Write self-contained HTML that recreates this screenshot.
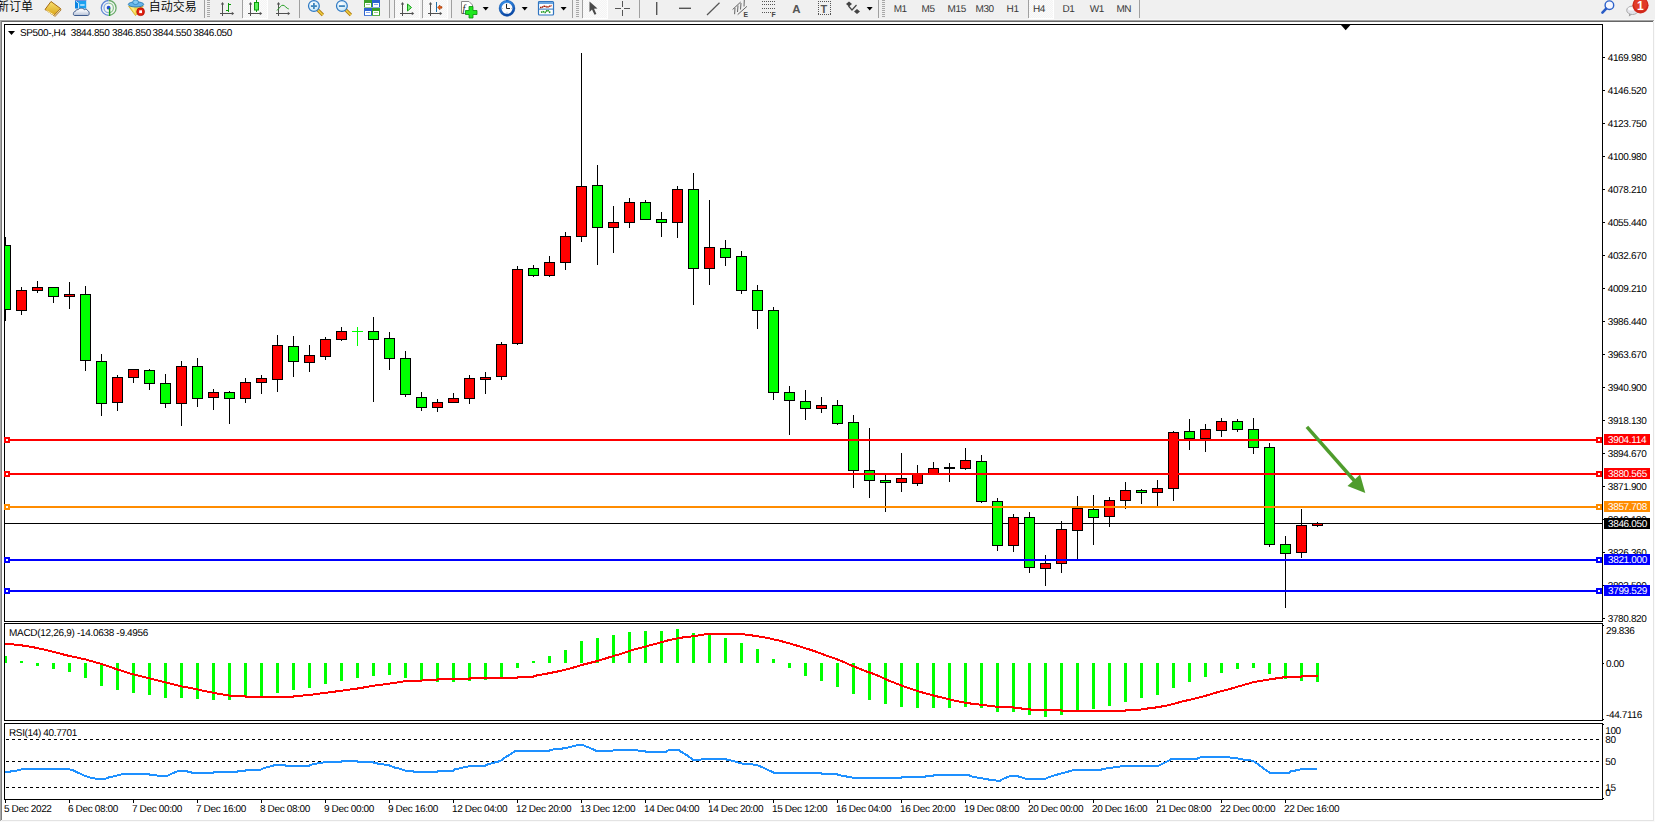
<!DOCTYPE html>
<html><head><meta charset="utf-8"><title>SP500-,H4</title>
<style>
html,body{margin:0;padding:0;width:1655px;height:822px;overflow:hidden;background:#f0f0f0;}
svg{position:absolute;left:0;top:0;display:block}
</style></head><body>
<svg width="1655" height="822" viewBox="0 0 1655 822">
<rect x="0" y="0" width="1655" height="822" fill="#f0f0f0"/>
<rect x="0" y="19" width="1655" height="1" fill="#f6f6f6"/>
<rect x="0" y="20" width="1654" height="1" fill="#a4a4a4"/>
<rect x="0" y="21" width="1653" height="1" fill="#666666"/>
<rect x="0" y="20" width="1" height="801" fill="#a8a8a8"/>
<rect x="1" y="21" width="1" height="799" fill="#7c7c7c"/>
<rect x="2" y="820" width="1652" height="1" fill="#e3e3e3"/>
<rect x="0" y="821" width="1655" height="1" fill="#fafafa"/>
<rect x="1653" y="22" width="1" height="799" fill="#e4e4e4"/>
<rect x="1654" y="20" width="1" height="802" fill="#fbfbfb"/>
<g text-rendering="geometricPrecision"><defs><clipPath id="cm"><rect x="5" y="25" width="1597" height="596"/></clipPath><clipPath id="cd"><rect x="5" y="624" width="1597" height="97"/></clipPath><clipPath id="cr"><rect x="5" y="724" width="1597" height="75"/></clipPath></defs><rect x="2" y="22" width="1651" height="798" fill="#ffffff"/><g shape-rendering="crispEdges" fill="none" stroke="#000" stroke-width="1"><path d="M4.5 24.5H1602.5V621.5H4.5Z"/><path d="M4.5 623.5H1602.5V720.5H4.5Z"/><path d="M4.5 723.5H1602.5V799.5H4.5Z"/></g><path d="M1341 25H1350.4L1345.7 30.3Z" fill="#000"/><g clip-path="url(#cm)" shape-rendering="crispEdges"><rect x="5" y="523" width="1597" height="1" fill="#000"/><rect x="5" y="237" width="1" height="84" fill="#000"/><rect x="0" y="245" width="11" height="65" fill="#000"/><rect x="1" y="246" width="9" height="63" fill="#00ff00"/><rect x="21" y="287" width="1" height="28" fill="#000"/><rect x="16" y="290" width="11" height="21" fill="#000"/><rect x="17" y="291" width="9" height="19" fill="#ff0000"/><rect x="37" y="281" width="1" height="12" fill="#000"/><rect x="32" y="287" width="11" height="4" fill="#000"/><rect x="33" y="288" width="9" height="2" fill="#ff0000"/><rect x="53" y="287" width="1" height="16" fill="#000"/><rect x="48" y="287" width="11" height="10" fill="#000"/><rect x="49" y="288" width="9" height="8" fill="#00ff00"/><rect x="69" y="282" width="1" height="27" fill="#000"/><rect x="64" y="294" width="11" height="3" fill="#000"/><rect x="65" y="295" width="9" height="1" fill="#ff0000"/><rect x="85" y="286" width="1" height="85" fill="#000"/><rect x="80" y="294" width="11" height="67" fill="#000"/><rect x="81" y="295" width="9" height="65" fill="#00ff00"/><rect x="101" y="354" width="1" height="62" fill="#000"/><rect x="96" y="361" width="11" height="43" fill="#000"/><rect x="97" y="362" width="9" height="41" fill="#00ff00"/><rect x="117" y="375" width="1" height="36" fill="#000"/><rect x="112" y="377" width="11" height="26" fill="#000"/><rect x="113" y="378" width="9" height="24" fill="#ff0000"/><rect x="133" y="369" width="1" height="14" fill="#000"/><rect x="128" y="369" width="11" height="9" fill="#000"/><rect x="129" y="370" width="9" height="7" fill="#ff0000"/><rect x="149" y="369" width="1" height="21" fill="#000"/><rect x="144" y="370" width="11" height="14" fill="#000"/><rect x="145" y="371" width="9" height="12" fill="#00ff00"/><rect x="165" y="374" width="1" height="34" fill="#000"/><rect x="160" y="383" width="11" height="21" fill="#000"/><rect x="161" y="384" width="9" height="19" fill="#00ff00"/><rect x="181" y="361" width="1" height="65" fill="#000"/><rect x="176" y="366" width="11" height="38" fill="#000"/><rect x="177" y="367" width="9" height="36" fill="#ff0000"/><rect x="197" y="358" width="1" height="49" fill="#000"/><rect x="192" y="366" width="11" height="33" fill="#000"/><rect x="193" y="367" width="9" height="31" fill="#00ff00"/><rect x="213" y="389" width="1" height="21" fill="#000"/><rect x="208" y="392" width="11" height="6" fill="#000"/><rect x="209" y="393" width="9" height="4" fill="#ff0000"/><rect x="229" y="391" width="1" height="33" fill="#000"/><rect x="224" y="392" width="11" height="7" fill="#000"/><rect x="225" y="393" width="9" height="5" fill="#00ff00"/><rect x="245" y="378" width="1" height="25" fill="#000"/><rect x="240" y="382" width="11" height="17" fill="#000"/><rect x="241" y="383" width="9" height="15" fill="#ff0000"/><rect x="261" y="375" width="1" height="19" fill="#000"/><rect x="256" y="378" width="11" height="5" fill="#000"/><rect x="257" y="379" width="9" height="3" fill="#ff0000"/><rect x="277" y="335" width="1" height="57" fill="#000"/><rect x="272" y="345" width="11" height="35" fill="#000"/><rect x="273" y="346" width="9" height="33" fill="#ff0000"/><rect x="293" y="336" width="1" height="41" fill="#000"/><rect x="288" y="346" width="11" height="16" fill="#000"/><rect x="289" y="347" width="9" height="14" fill="#00ff00"/><rect x="309" y="345" width="1" height="27" fill="#000"/><rect x="304" y="355" width="11" height="8" fill="#000"/><rect x="305" y="356" width="9" height="6" fill="#ff0000"/><rect x="325" y="337" width="1" height="23" fill="#000"/><rect x="320" y="339" width="11" height="18" fill="#000"/><rect x="321" y="340" width="9" height="16" fill="#ff0000"/><rect x="341" y="327" width="1" height="14" fill="#000"/><rect x="336" y="331" width="11" height="9" fill="#000"/><rect x="337" y="332" width="9" height="7" fill="#ff0000"/><rect x="357" y="327" width="1" height="19" fill="#00ff00"/><rect x="352" y="331" width="11" height="1" fill="#00ff00"/><rect x="373" y="317" width="1" height="85" fill="#000"/><rect x="368" y="331" width="11" height="9" fill="#000"/><rect x="369" y="332" width="9" height="7" fill="#00ff00"/><rect x="389" y="332" width="1" height="38" fill="#000"/><rect x="384" y="338" width="11" height="21" fill="#000"/><rect x="385" y="339" width="9" height="19" fill="#00ff00"/><rect x="405" y="351" width="1" height="46" fill="#000"/><rect x="400" y="358" width="11" height="37" fill="#000"/><rect x="401" y="359" width="9" height="35" fill="#00ff00"/><rect x="421" y="392" width="1" height="19" fill="#000"/><rect x="416" y="397" width="11" height="11" fill="#000"/><rect x="417" y="398" width="9" height="9" fill="#00ff00"/><rect x="437" y="399" width="1" height="13" fill="#000"/><rect x="432" y="402" width="11" height="6" fill="#000"/><rect x="433" y="403" width="9" height="4" fill="#ff0000"/><rect x="453" y="393" width="1" height="10" fill="#000"/><rect x="448" y="398" width="11" height="5" fill="#000"/><rect x="449" y="399" width="9" height="3" fill="#ff0000"/><rect x="469" y="375" width="1" height="29" fill="#000"/><rect x="464" y="378" width="11" height="21" fill="#000"/><rect x="465" y="379" width="9" height="19" fill="#ff0000"/><rect x="485" y="372" width="1" height="22" fill="#000"/><rect x="480" y="377" width="11" height="3" fill="#000"/><rect x="481" y="378" width="9" height="1" fill="#ff0000"/><rect x="501" y="342" width="1" height="38" fill="#000"/><rect x="496" y="344" width="11" height="33" fill="#000"/><rect x="497" y="345" width="9" height="31" fill="#ff0000"/><rect x="517" y="266" width="1" height="79" fill="#000"/><rect x="512" y="269" width="11" height="75" fill="#000"/><rect x="513" y="270" width="9" height="73" fill="#ff0000"/><rect x="533" y="265" width="1" height="12" fill="#000"/><rect x="528" y="268" width="11" height="8" fill="#000"/><rect x="529" y="269" width="9" height="6" fill="#00ff00"/><rect x="549" y="256" width="1" height="21" fill="#000"/><rect x="544" y="262" width="11" height="14" fill="#000"/><rect x="545" y="263" width="9" height="12" fill="#ff0000"/><rect x="565" y="232" width="1" height="38" fill="#000"/><rect x="560" y="236" width="11" height="27" fill="#000"/><rect x="561" y="237" width="9" height="25" fill="#ff0000"/><rect x="581" y="53" width="1" height="189" fill="#000"/><rect x="576" y="186" width="11" height="51" fill="#000"/><rect x="577" y="187" width="9" height="49" fill="#ff0000"/><rect x="597" y="165" width="1" height="100" fill="#000"/><rect x="592" y="185" width="11" height="43" fill="#000"/><rect x="593" y="186" width="9" height="41" fill="#00ff00"/><rect x="613" y="206" width="1" height="47" fill="#000"/><rect x="608" y="222" width="11" height="6" fill="#000"/><rect x="609" y="223" width="9" height="4" fill="#ff0000"/><rect x="629" y="198" width="1" height="30" fill="#000"/><rect x="624" y="202" width="11" height="21" fill="#000"/><rect x="625" y="203" width="9" height="19" fill="#ff0000"/><rect x="645" y="200" width="1" height="20" fill="#000"/><rect x="640" y="202" width="11" height="18" fill="#000"/><rect x="641" y="203" width="9" height="16" fill="#00ff00"/><rect x="661" y="212" width="1" height="25" fill="#000"/><rect x="656" y="219" width="11" height="4" fill="#000"/><rect x="657" y="220" width="9" height="2" fill="#00ff00"/><rect x="677" y="186" width="1" height="52" fill="#000"/><rect x="672" y="189" width="11" height="34" fill="#000"/><rect x="673" y="190" width="9" height="32" fill="#ff0000"/><rect x="693" y="173" width="1" height="132" fill="#000"/><rect x="688" y="189" width="11" height="80" fill="#000"/><rect x="689" y="190" width="9" height="78" fill="#00ff00"/><rect x="709" y="200" width="1" height="85" fill="#000"/><rect x="704" y="247" width="11" height="22" fill="#000"/><rect x="705" y="248" width="9" height="20" fill="#ff0000"/><rect x="725" y="240" width="1" height="26" fill="#000"/><rect x="720" y="248" width="11" height="10" fill="#000"/><rect x="721" y="249" width="9" height="8" fill="#00ff00"/><rect x="741" y="251" width="1" height="43" fill="#000"/><rect x="736" y="256" width="11" height="35" fill="#000"/><rect x="737" y="257" width="9" height="33" fill="#00ff00"/><rect x="757" y="285" width="1" height="44" fill="#000"/><rect x="752" y="290" width="11" height="21" fill="#000"/><rect x="753" y="291" width="9" height="19" fill="#00ff00"/><rect x="773" y="307" width="1" height="93" fill="#000"/><rect x="768" y="310" width="11" height="83" fill="#000"/><rect x="769" y="311" width="9" height="81" fill="#00ff00"/><rect x="789" y="386" width="1" height="49" fill="#000"/><rect x="784" y="392" width="11" height="9" fill="#000"/><rect x="785" y="393" width="9" height="7" fill="#00ff00"/><rect x="805" y="390" width="1" height="30" fill="#000"/><rect x="800" y="401" width="11" height="8" fill="#000"/><rect x="801" y="402" width="9" height="6" fill="#00ff00"/><rect x="821" y="397" width="1" height="16" fill="#000"/><rect x="816" y="405" width="11" height="4" fill="#000"/><rect x="817" y="406" width="9" height="2" fill="#ff0000"/><rect x="837" y="400" width="1" height="25" fill="#000"/><rect x="832" y="405" width="11" height="19" fill="#000"/><rect x="833" y="406" width="9" height="17" fill="#00ff00"/><rect x="853" y="415" width="1" height="73" fill="#000"/><rect x="848" y="422" width="11" height="49" fill="#000"/><rect x="849" y="423" width="9" height="47" fill="#00ff00"/><rect x="869" y="428" width="1" height="70" fill="#000"/><rect x="864" y="470" width="11" height="11" fill="#000"/><rect x="865" y="471" width="9" height="9" fill="#00ff00"/><rect x="885" y="475" width="1" height="37" fill="#000"/><rect x="880" y="480" width="11" height="3" fill="#000"/><rect x="881" y="481" width="9" height="1" fill="#00ff00"/><rect x="901" y="453" width="1" height="39" fill="#000"/><rect x="896" y="478" width="11" height="5" fill="#000"/><rect x="897" y="479" width="9" height="3" fill="#ff0000"/><rect x="917" y="465" width="1" height="21" fill="#000"/><rect x="912" y="473" width="11" height="11" fill="#000"/><rect x="913" y="474" width="9" height="9" fill="#ff0000"/><rect x="933" y="462" width="1" height="12" fill="#000"/><rect x="928" y="468" width="11" height="6" fill="#000"/><rect x="929" y="469" width="9" height="4" fill="#ff0000"/><rect x="949" y="463" width="1" height="19" fill="#000"/><rect x="944" y="467" width="11" height="2" fill="#000"/><rect x="965" y="448" width="1" height="22" fill="#000"/><rect x="960" y="460" width="11" height="9" fill="#000"/><rect x="961" y="461" width="9" height="7" fill="#ff0000"/><rect x="981" y="455" width="1" height="48" fill="#000"/><rect x="976" y="461" width="11" height="41" fill="#000"/><rect x="977" y="462" width="9" height="39" fill="#00ff00"/><rect x="997" y="498" width="1" height="53" fill="#000"/><rect x="992" y="501" width="11" height="45" fill="#000"/><rect x="993" y="502" width="9" height="43" fill="#00ff00"/><rect x="1013" y="514" width="1" height="38" fill="#000"/><rect x="1008" y="517" width="11" height="29" fill="#000"/><rect x="1009" y="518" width="9" height="27" fill="#ff0000"/><rect x="1029" y="512" width="1" height="61" fill="#000"/><rect x="1024" y="517" width="11" height="51" fill="#000"/><rect x="1025" y="518" width="9" height="49" fill="#00ff00"/><rect x="1045" y="555" width="1" height="31" fill="#000"/><rect x="1040" y="563" width="11" height="6" fill="#000"/><rect x="1041" y="564" width="9" height="4" fill="#ff0000"/><rect x="1061" y="521" width="1" height="52" fill="#000"/><rect x="1056" y="529" width="11" height="35" fill="#000"/><rect x="1057" y="530" width="9" height="33" fill="#ff0000"/><rect x="1077" y="496" width="1" height="63" fill="#000"/><rect x="1072" y="508" width="11" height="23" fill="#000"/><rect x="1073" y="509" width="9" height="21" fill="#ff0000"/><rect x="1093" y="495" width="1" height="50" fill="#000"/><rect x="1088" y="509" width="11" height="9" fill="#000"/><rect x="1089" y="510" width="9" height="7" fill="#00ff00"/><rect x="1109" y="497" width="1" height="30" fill="#000"/><rect x="1104" y="500" width="11" height="17" fill="#000"/><rect x="1105" y="501" width="9" height="15" fill="#ff0000"/><rect x="1125" y="482" width="1" height="27" fill="#000"/><rect x="1120" y="490" width="11" height="11" fill="#000"/><rect x="1121" y="491" width="9" height="9" fill="#ff0000"/><rect x="1141" y="489" width="1" height="15" fill="#000"/><rect x="1136" y="490" width="11" height="3" fill="#000"/><rect x="1137" y="491" width="9" height="1" fill="#00ff00"/><rect x="1157" y="480" width="1" height="26" fill="#000"/><rect x="1152" y="488" width="11" height="5" fill="#000"/><rect x="1153" y="489" width="9" height="3" fill="#ff0000"/><rect x="1173" y="431" width="1" height="70" fill="#000"/><rect x="1168" y="432" width="11" height="57" fill="#000"/><rect x="1169" y="433" width="9" height="55" fill="#ff0000"/><rect x="1189" y="419" width="1" height="31" fill="#000"/><rect x="1184" y="431" width="11" height="8" fill="#000"/><rect x="1185" y="432" width="9" height="6" fill="#00ff00"/><rect x="1205" y="424" width="1" height="28" fill="#000"/><rect x="1200" y="429" width="11" height="10" fill="#000"/><rect x="1201" y="430" width="9" height="8" fill="#ff0000"/><rect x="1221" y="418" width="1" height="19" fill="#000"/><rect x="1216" y="421" width="11" height="10" fill="#000"/><rect x="1217" y="422" width="9" height="8" fill="#ff0000"/><rect x="1237" y="419" width="1" height="13" fill="#000"/><rect x="1232" y="421" width="11" height="9" fill="#000"/><rect x="1233" y="422" width="9" height="7" fill="#00ff00"/><rect x="1253" y="418" width="1" height="36" fill="#000"/><rect x="1248" y="429" width="11" height="19" fill="#000"/><rect x="1249" y="430" width="9" height="17" fill="#00ff00"/><rect x="1269" y="443" width="1" height="104" fill="#000"/><rect x="1264" y="447" width="11" height="98" fill="#000"/><rect x="1265" y="448" width="9" height="96" fill="#00ff00"/><rect x="1285" y="536" width="1" height="72" fill="#000"/><rect x="1280" y="544" width="11" height="10" fill="#000"/><rect x="1281" y="545" width="9" height="8" fill="#00ff00"/><rect x="1301" y="509" width="1" height="49" fill="#000"/><rect x="1296" y="525" width="11" height="28" fill="#000"/><rect x="1297" y="526" width="9" height="26" fill="#ff0000"/><rect x="1317" y="522" width="1" height="5" fill="#000"/><rect x="1312" y="523" width="11" height="3" fill="#000"/><rect x="1313" y="524" width="9" height="1" fill="#ff0000"/><rect x="5" y="439" width="1597" height="2" fill="#ff0000"/><rect x="5" y="473" width="1597" height="2" fill="#ff0000"/><rect x="5" y="506" width="1597" height="2" fill="#ff8c00"/><rect x="5" y="559" width="1597" height="2" fill="#0000ff"/><rect x="5" y="590" width="1597" height="2" fill="#0000ff"/></g><rect x="4" y="437" width="6" height="6" fill="#ff0000"/><rect x="6" y="439" width="2" height="2" fill="#fff"/><rect x="1596" y="437" width="6" height="6" fill="#ff0000"/><rect x="1598" y="439" width="2" height="2" fill="#fff"/><rect x="4" y="471" width="6" height="6" fill="#ff0000"/><rect x="6" y="473" width="2" height="2" fill="#fff"/><rect x="1596" y="471" width="6" height="6" fill="#ff0000"/><rect x="1598" y="473" width="2" height="2" fill="#fff"/><rect x="4" y="504" width="6" height="6" fill="#ff8c00"/><rect x="6" y="506" width="2" height="2" fill="#fff"/><rect x="1596" y="504" width="6" height="6" fill="#ff8c00"/><rect x="1598" y="506" width="2" height="2" fill="#fff"/><rect x="4" y="557" width="6" height="6" fill="#0000ff"/><rect x="6" y="559" width="2" height="2" fill="#fff"/><rect x="1596" y="557" width="6" height="6" fill="#0000ff"/><rect x="1598" y="559" width="2" height="2" fill="#fff"/><rect x="4" y="588" width="6" height="6" fill="#0000ff"/><rect x="6" y="590" width="2" height="2" fill="#fff"/><rect x="1596" y="588" width="6" height="6" fill="#0000ff"/><rect x="1598" y="590" width="2" height="2" fill="#fff"/><g fill="#4f9c2c" stroke="none"><path d="M1305.6 428.1 L1308.2 425.8 L1356.6 480.6 L1354 482.9 Z"/><path d="M1360.1 474.4 L1365.3 493 L1347.5 486.1 Z"/></g><g font-family='"Liberation Sans", "DejaVu Sans", sans-serif' font-size="10px" letter-spacing="-0.36px" fill="#000"><rect x="1603" y="57" width="2" height="1" fill="#000"/><text x="1607.7" transform="translate(0 61) scale(1 1.0)">4169.980</text><rect x="1603" y="90" width="2" height="1" fill="#000"/><text x="1607.7" transform="translate(0 94) scale(1 1.0)">4146.520</text><rect x="1603" y="123" width="2" height="1" fill="#000"/><text x="1607.7" transform="translate(0 127) scale(1 1.0)">4123.750</text><rect x="1603" y="156" width="2" height="1" fill="#000"/><text x="1607.7" transform="translate(0 160) scale(1 1.0)">4100.980</text><rect x="1603" y="189" width="2" height="1" fill="#000"/><text x="1607.7" transform="translate(0 193) scale(1 1.0)">4078.210</text><rect x="1603" y="222" width="2" height="1" fill="#000"/><text x="1607.7" transform="translate(0 226) scale(1 1.0)">4055.440</text><rect x="1603" y="255" width="2" height="1" fill="#000"/><text x="1607.7" transform="translate(0 259) scale(1 1.0)">4032.670</text><rect x="1603" y="288" width="2" height="1" fill="#000"/><text x="1607.7" transform="translate(0 292) scale(1 1.0)">4009.210</text><rect x="1603" y="321" width="2" height="1" fill="#000"/><text x="1607.7" transform="translate(0 325) scale(1 1.0)">3986.440</text><rect x="1603" y="354" width="2" height="1" fill="#000"/><text x="1607.7" transform="translate(0 358) scale(1 1.0)">3963.670</text><rect x="1603" y="387" width="2" height="1" fill="#000"/><text x="1607.7" transform="translate(0 391) scale(1 1.0)">3940.900</text><rect x="1603" y="420" width="2" height="1" fill="#000"/><text x="1607.7" transform="translate(0 424) scale(1 1.0)">3918.130</text><rect x="1603" y="453" width="2" height="1" fill="#000"/><text x="1607.7" transform="translate(0 457) scale(1 1.0)">3894.670</text><rect x="1603" y="486" width="2" height="1" fill="#000"/><text x="1607.7" transform="translate(0 490) scale(1 1.0)">3871.900</text><rect x="1603" y="519" width="2" height="1" fill="#000"/><text x="1607.7" transform="translate(0 523) scale(1 1.0)">3849.130</text><rect x="1603" y="552" width="2" height="1" fill="#000"/><text x="1607.7" transform="translate(0 556) scale(1 1.0)">3826.360</text><rect x="1603" y="585" width="2" height="1" fill="#000"/><text x="1607.7" transform="translate(0 589) scale(1 1.0)">3803.590</text><rect x="1603" y="618" width="2" height="1" fill="#000"/><text x="1607.7" transform="translate(0 622) scale(1 1.0)">3780.820</text></g><g font-family='"Liberation Sans", "DejaVu Sans", sans-serif' font-size="10px" letter-spacing="-0.36px" fill="#fff"><rect x="1604" y="434" width="46" height="11" fill="#ff0000"/><text x="1608" transform="translate(0 443) scale(1 1.0)">3904.114</text><rect x="1604" y="468" width="46" height="11" fill="#ff0000"/><text x="1608" transform="translate(0 477) scale(1 1.0)">3880.565</text><rect x="1604" y="501" width="46" height="11" fill="#ff8c00"/><text x="1608" transform="translate(0 510) scale(1 1.0)">3857.708</text><rect x="1604" y="554" width="46" height="11" fill="#0000ff"/><text x="1608" transform="translate(0 563) scale(1 1.0)">3821.000</text><rect x="1604" y="585" width="46" height="11" fill="#0000ff"/><text x="1608" transform="translate(0 594) scale(1 1.0)">3799.529</text><rect x="1604" y="518" width="46" height="11" fill="#000"/><text x="1608" transform="translate(0 527) scale(1 1.0)">3846.050</text></g><path d="M8 31H15L11.5 35Z" fill="#000"/><text transform="translate(0 36) scale(1 1.0)" font-family='"Liberation Sans", "DejaVu Sans", sans-serif' font-size="10px" letter-spacing="-0.36px" fill="#000"><tspan x="20">SP500-,H4</tspan> <tspan x="70.7">3844.850</tspan> <tspan x="112">3846.850</tspan> <tspan x="152.6">3844.550</tspan> <tspan x="193.2">3846.050</tspan></text><g clip-path="url(#cd)" shape-rendering="crispEdges" fill="#00ff00"><rect x="4" y="656.0" width="3" height="7.0"/><rect x="20" y="661.0" width="3" height="2.0"/><rect x="36" y="663.0" width="3" height="3.0"/><rect x="52" y="663.0" width="3" height="6.0"/><rect x="68" y="663.0" width="3" height="9.0"/><rect x="84" y="663.0" width="3" height="15.0"/><rect x="100" y="663.0" width="3" height="23.0"/><rect x="116" y="663.0" width="3" height="27.0"/><rect x="132" y="663.0" width="3" height="30.0"/><rect x="148" y="663.0" width="3" height="32.0"/><rect x="164" y="663.0" width="3" height="35.0"/><rect x="180" y="663.0" width="3" height="35.0"/><rect x="196" y="663.0" width="3" height="36.0"/><rect x="212" y="663.0" width="3" height="37.0"/><rect x="228" y="663.0" width="3" height="37.0"/><rect x="244" y="663.0" width="3" height="33.0"/><rect x="260" y="663.0" width="3" height="33.0"/><rect x="276" y="663.0" width="3" height="30.0"/><rect x="292" y="663.0" width="3" height="27.0"/><rect x="308" y="663.0" width="3" height="25.0"/><rect x="324" y="663.0" width="3" height="21.0"/><rect x="340" y="663.0" width="3" height="18.0"/><rect x="356" y="663.0" width="3" height="15.0"/><rect x="372" y="663.0" width="3" height="13.0"/><rect x="388" y="663.0" width="3" height="12.0"/><rect x="404" y="663.0" width="3" height="15.0"/><rect x="420" y="663.0" width="3" height="17.0"/><rect x="436" y="663.0" width="3" height="18.6"/><rect x="452" y="663.0" width="3" height="18.6"/><rect x="468" y="663.0" width="3" height="18.0"/><rect x="484" y="663.0" width="3" height="17.0"/><rect x="500" y="663.0" width="3" height="14.0"/><rect x="516" y="663.0" width="3" height="4.7"/><rect x="532" y="661.0" width="3" height="2.0"/><rect x="548" y="656.0" width="3" height="7.0"/><rect x="564" y="650.0" width="3" height="13.0"/><rect x="580" y="641.0" width="3" height="22.0"/><rect x="596" y="638.0" width="3" height="25.0"/><rect x="612" y="635.0" width="3" height="28.0"/><rect x="628" y="632.0" width="3" height="31.0"/><rect x="644" y="631.0" width="3" height="32.0"/><rect x="660" y="631.0" width="3" height="32.0"/><rect x="676" y="629.0" width="3" height="34.0"/><rect x="692" y="633.0" width="3" height="30.0"/><rect x="708" y="635.4" width="3" height="27.6"/><rect x="724" y="638.0" width="3" height="25.0"/><rect x="740" y="643.0" width="3" height="20.0"/><rect x="756" y="649.0" width="3" height="14.0"/><rect x="772" y="659.0" width="3" height="4.0"/><rect x="788" y="663.0" width="3" height="4.7"/><rect x="804" y="663.0" width="3" height="12.5"/><rect x="820" y="663.0" width="3" height="18.0"/><rect x="836" y="663.0" width="3" height="23.8"/><rect x="852" y="663.0" width="3" height="30.5"/><rect x="868" y="663.0" width="3" height="36.7"/><rect x="884" y="663.0" width="3" height="40.8"/><rect x="900" y="663.0" width="3" height="43.7"/><rect x="916" y="663.0" width="3" height="44.7"/><rect x="932" y="663.0" width="3" height="44.7"/><rect x="948" y="663.0" width="3" height="44.7"/><rect x="964" y="663.0" width="3" height="43.7"/><rect x="980" y="663.0" width="3" height="44.7"/><rect x="996" y="663.0" width="3" height="48.6"/><rect x="1012" y="663.0" width="3" height="48.6"/><rect x="1028" y="663.0" width="3" height="52.0"/><rect x="1044" y="663.0" width="3" height="54.0"/><rect x="1060" y="663.0" width="3" height="52.0"/><rect x="1076" y="663.0" width="3" height="47.4"/><rect x="1092" y="663.0" width="3" height="45.7"/><rect x="1108" y="663.0" width="3" height="42.7"/><rect x="1124" y="663.0" width="3" height="38.8"/><rect x="1140" y="663.0" width="3" height="34.6"/><rect x="1156" y="663.0" width="3" height="31.8"/><rect x="1172" y="663.0" width="3" height="24.8"/><rect x="1188" y="663.0" width="3" height="18.6"/><rect x="1204" y="663.0" width="3" height="13.7"/><rect x="1220" y="663.0" width="3" height="9.6"/><rect x="1236" y="663.0" width="3" height="5.9"/><rect x="1252" y="663.0" width="3" height="4.7"/><rect x="1268" y="663.0" width="3" height="10.8"/><rect x="1284" y="663.0" width="3" height="15.5"/><rect x="1300" y="663.0" width="3" height="17.8"/><rect x="1316" y="663.0" width="3" height="18.6"/></g><g clip-path="url(#cd)"><polyline points="4.8,644.1 13.3,644.4 21.1,645.3 32.6,647.1 48.3,650.5 66.5,655.3 84.6,659.2 101.5,664.0 117.2,669.4 132.9,674.3 149.8,678.5 165.6,682.4 181.3,686.4 195.0,688.8 202.3,690.5 208.3,691.7 218.0,693.8 225.2,694.8 230.0,695.8 244.5,695.8 245.8,696.9 292.9,696.9 294.1,695.8 309.2,695.3 317.0,693.8 325.5,692.9 334.0,691.7 341.2,690.8 349.7,689.6 357.0,688.6 367.8,686.8 373.9,685.6 381.1,684.8 389.6,683.6 394.8,682.9 400.9,681.9 405.7,681.1 421.4,681.1 422.6,679.9 437.7,679.9 438.3,678.9 469.8,678.9 470.4,677.9 516.9,677.9 518.1,677.0 533.2,677.0 534.4,676.0 538.6,675.0 544.7,674.1 549.5,673.1 560.0,671.0 572.1,667.9 584.2,664.3 596.3,661.3 608.3,657.6 620.4,654.0 632.5,650.0 644.6,646.8 656.7,643.5 668.8,640.1 680.8,637.7 692.9,636.3 705.0,634.3 711.0,633.7 741.0,633.7 747.3,634.9 755.0,635.8 767.1,637.9 779.2,640.6 791.3,643.9 803.3,647.5 815.4,651.5 827.5,656.0 839.6,660.2 851.7,665.6 863.8,670.5 875.8,674.7 887.9,680.2 900.0,685.0 912.1,689.2 924.2,693.1 936.3,696.2 948.4,699.1 954.8,700.8 960.9,701.9 965.7,702.9 973.6,703.9 981.4,704.8 989.9,705.9 997.7,706.9 1012.8,706.9 1014.0,707.9 1021.3,707.9 1021.9,708.8 1029.8,708.8 1030.4,709.8 1061.2,709.8 1061.8,710.8 1125.2,710.8 1125.8,709.8 1140.0,709.6 1149.7,708.2 1158.1,707.2 1170.2,704.8 1182.3,701.5 1194.4,698.7 1206.5,695.5 1218.5,691.9 1230.6,688.8 1242.7,685.2 1254.8,681.8 1266.9,679.8 1279.0,678.0 1286.2,677.0 1300.7,677.0 1301.9,675.9 1317.6,675.9" fill="none" stroke="#ff0000" stroke-width="2" stroke-linejoin="round" shape-rendering="crispEdges"/></g><text x="9" transform="translate(0 636) scale(1 1.0)" font-family='"Liberation Sans", "DejaVu Sans", sans-serif' font-size="10px" letter-spacing="-0.31px" fill="#000">MACD(12,26,9) -14.0638 -9.4956</text><g font-family='"Liberation Sans", "DejaVu Sans", sans-serif' font-size="10px" letter-spacing="-0.36px" fill="#000"><rect x="1603" y="663" width="1" height="1" fill="#000"/><rect x="1603" y="625" width="1" height="1" fill="#000"/><rect x="1603" y="719" width="1" height="1" fill="#000"/><text x="1606" transform="translate(0 634) scale(1 1.0)">29.836</text><text x="1606" transform="translate(0 667) scale(1 1.0)">0.00</text><text x="1606" transform="translate(0 718) scale(1 1.0)">-44.7116</text></g><g shape-rendering="crispEdges" stroke="#000" stroke-width="1" stroke-dasharray="3 3"><line x1="6" y1="739.5" x2="1602" y2="739.5"/><line x1="6" y1="761.5" x2="1602" y2="761.5"/><line x1="6" y1="787.5" x2="1602" y2="787.5"/></g><g clip-path="url(#cr)"><polyline points="4.5,771.9 10.3,771.9 11.0,770.7 16.0,770.7 21.8,769.3 68.9,769.3 72.5,770.1 78.5,772.9 84.6,775.8 90.6,777.7 96.7,778.8 105.1,778.8 108.8,777.4 114.8,776.1 118.4,775.0 125.7,773.7 148.6,773.7 149.8,775.0 157.1,775.5 168.0,775.5 171.6,773.7 178.9,770.7 186.1,770.7 188.5,771.9 193.4,772.9 195.0,772.9 213.7,772.9 214.3,771.9 237.3,771.9 237.9,770.7 245.2,770.7 245.8,769.7 260.9,769.7 262.7,768.7 267.5,767.1 272.3,766.1 275.4,764.7 285.0,764.7 286.2,765.9 309.2,765.9 311.0,764.7 315.8,763.7 320.7,762.9 326.7,761.9 341.2,761.9 342.4,760.8 356.9,760.8 357.5,761.9 372.6,761.9 373.9,762.9 378.7,763.7 384.7,764.7 390.0,765.6 394.8,767.6 400.9,769.0 405.7,770.8 413.0,770.8 414.2,772.0 437.1,772.0 437.7,770.8 452.8,770.8 454.0,769.6 461.3,768.0 469.8,766.0 484.9,766.0 486.7,764.8 492.7,763.0 500.0,761.1 506.0,756.9 510.8,753.9 515.7,750.9 548.9,750.9 549.5,749.9 557.4,749.1 565.2,748.2 571.3,746.6 577.3,745.1 582.7,745.1 589.8,747.9 595.9,750.6 612.8,750.6 614.0,749.7 637.0,749.7 638.2,750.6 645.4,750.9 646.0,751.8 666.0,751.8 667.2,750.6 672.6,749.7 678.1,749.7 681.7,752.1 687.7,755.7 692.6,759.6 701.0,759.6 702.2,758.7 725.2,758.7 726.4,759.6 733.6,761.1 742.1,763.6 749.4,764.2 756.6,764.8 763.8,767.8 773.5,772.6 821.1,772.6 821.7,773.7 836.8,773.7 838.0,774.9 842.2,775.8 848.3,776.8 853.1,777.7 901.5,777.7 902.1,776.8 925.0,776.8 925.6,775.8 933.5,775.8 934.7,774.6 968.5,774.6 969.7,775.8 973.4,776.8 979.8,778.0 985.9,779.0 991.9,780.2 999.8,780.8 1002.8,779.0 1010.0,776.0 1016.7,776.0 1020.9,777.2 1025.8,778.8 1045.1,778.8 1049.9,776.8 1059.6,773.9 1066.8,772.0 1074.1,769.9 1101.3,769.9 1101.9,769.0 1109.1,768.1 1117.6,766.9 1126.1,765.7 1158.7,765.7 1164.5,762.9 1171.8,758.9 1197.1,758.9 1198.3,757.7 1205.6,756.8 1229.2,756.8 1230.4,757.7 1237.0,758.3 1243.1,759.5 1252.7,760.7 1256.3,762.9 1269.6,772.8 1289.0,772.8 1290.2,771.6 1297.4,770.1 1302.3,768.9 1317.4,768.9" fill="none" stroke="#1e90ff" stroke-width="2" stroke-linejoin="round" shape-rendering="crispEdges"/></g><text x="9" transform="translate(0 736) scale(1 1.0)" font-family='"Liberation Sans", "DejaVu Sans", sans-serif' font-size="10px" letter-spacing="-0.36px" fill="#000">RSI(14) 40.7701</text><g font-family='"Liberation Sans", "DejaVu Sans", sans-serif' font-size="10px" letter-spacing="-0.36px" fill="#000"><text x="1605.2" transform="translate(0 734) scale(1 1.0)">100</text><text x="1605.2" transform="translate(0 743) scale(1 1.0)">80</text><text x="1605.2" transform="translate(0 765) scale(1 1.0)">50</text><text x="1605.2" transform="translate(0 791) scale(1 1.0)">15</text><text x="1605.2" transform="translate(0 796) scale(1 1.0)">0</text><rect x="1603" y="724" width="1" height="1" fill="#000"/><rect x="1603" y="798" width="1" height="1" fill="#000"/></g><g font-family='"Liberation Sans", "DejaVu Sans", sans-serif' font-size="10px" letter-spacing="-0.36px" fill="#000"><rect x="5" y="800" width="1" height="3" fill="#000"/><text x="4" transform="translate(0 812) scale(1 1.0)">5 Dec 2022</text><rect x="69" y="800" width="1" height="3" fill="#000"/><text x="68" transform="translate(0 812) scale(1 1.0)">6 Dec 08:00</text><rect x="133" y="800" width="1" height="3" fill="#000"/><text x="132" transform="translate(0 812) scale(1 1.0)">7 Dec 00:00</text><rect x="197" y="800" width="1" height="3" fill="#000"/><text x="196" transform="translate(0 812) scale(1 1.0)">7 Dec 16:00</text><rect x="261" y="800" width="1" height="3" fill="#000"/><text x="260" transform="translate(0 812) scale(1 1.0)">8 Dec 08:00</text><rect x="325" y="800" width="1" height="3" fill="#000"/><text x="324" transform="translate(0 812) scale(1 1.0)">9 Dec 00:00</text><rect x="389" y="800" width="1" height="3" fill="#000"/><text x="388" transform="translate(0 812) scale(1 1.0)">9 Dec 16:00</text><rect x="453" y="800" width="1" height="3" fill="#000"/><text x="452" transform="translate(0 812) scale(1 1.0)">12 Dec 04:00</text><rect x="517" y="800" width="1" height="3" fill="#000"/><text x="516" transform="translate(0 812) scale(1 1.0)">12 Dec 20:00</text><rect x="581" y="800" width="1" height="3" fill="#000"/><text x="580" transform="translate(0 812) scale(1 1.0)">13 Dec 12:00</text><rect x="645" y="800" width="1" height="3" fill="#000"/><text x="644" transform="translate(0 812) scale(1 1.0)">14 Dec 04:00</text><rect x="709" y="800" width="1" height="3" fill="#000"/><text x="708" transform="translate(0 812) scale(1 1.0)">14 Dec 20:00</text><rect x="773" y="800" width="1" height="3" fill="#000"/><text x="772" transform="translate(0 812) scale(1 1.0)">15 Dec 12:00</text><rect x="837" y="800" width="1" height="3" fill="#000"/><text x="836" transform="translate(0 812) scale(1 1.0)">16 Dec 04:00</text><rect x="901" y="800" width="1" height="3" fill="#000"/><text x="900" transform="translate(0 812) scale(1 1.0)">16 Dec 20:00</text><rect x="965" y="800" width="1" height="3" fill="#000"/><text x="964" transform="translate(0 812) scale(1 1.0)">19 Dec 08:00</text><rect x="1029" y="800" width="1" height="3" fill="#000"/><text x="1028" transform="translate(0 812) scale(1 1.0)">20 Dec 00:00</text><rect x="1093" y="800" width="1" height="3" fill="#000"/><text x="1092" transform="translate(0 812) scale(1 1.0)">20 Dec 16:00</text><rect x="1157" y="800" width="1" height="3" fill="#000"/><text x="1156" transform="translate(0 812) scale(1 1.0)">21 Dec 08:00</text><rect x="1221" y="800" width="1" height="3" fill="#000"/><text x="1220" transform="translate(0 812) scale(1 1.0)">22 Dec 00:00</text><rect x="1285" y="800" width="1" height="3" fill="#000"/><text x="1284" transform="translate(0 812) scale(1 1.0)">22 Dec 16:00</text></g></g>
<g id="toolbar"><defs><pattern id="dith" width="2" height="2" patternUnits="userSpaceOnUse"><rect width="2" height="2" fill="#f4f4f4"/><rect width="1" height="1" fill="#fbfbfb"/><rect x="1" y="1" width="1" height="1" fill="#fbfbfb"/></pattern><linearGradient id="gold" x1="0" y1="0" x2="0" y2="1"><stop offset="0" stop-color="#f8e070"/><stop offset="1" stop-color="#d9a418"/></linearGradient><linearGradient id="cloud" x1="0" y1="0" x2="0" y2="1"><stop offset="0" stop-color="#ffffff"/><stop offset="0.4" stop-color="#eef1f7"/><stop offset="1" stop-color="#b4c0d6"/></linearGradient><linearGradient id="clk" x1="0" y1="0" x2="0.3" y2="1"><stop offset="0" stop-color="#3d95ec"/><stop offset="1" stop-color="#0b4aa8"/></linearGradient><radialGradient id="lens" cx="0.4" cy="0.35" r="0.7"><stop offset="0" stop-color="#ffffff"/><stop offset="1" stop-color="#bfe3f7"/></radialGradient></defs><text x="-3" y="11" font-family='"Liberation Sans", "Noto Sans CJK SC", "WenQuanYi Zen Hei", sans-serif' font-size="12px" font-weight="350" fill="#000">新订单</text><path d="M51 1.5 L60.5 8.5 L54 15.5 L45 9.5 Z" fill="url(#gold)" stroke="#a66b12" stroke-width="1"/><path d="M54 15.5 L60.5 8.5 L61 10 L55 16.5Z" fill="#efe2b8" stroke="#a66b12" stroke-width="0.8"/><path d="M46.5 10.5 L54 15" stroke="#fff1b0" stroke-width="1"/><rect x="75" y="0" width="3.8" height="8.5" fill="#0a84e2"/><rect x="78.8" y="0" width="7.4" height="8.5" fill="#1ba2f2"/><path d="M75.8 1.2 L78.6 3.2 V8.5" fill="none" stroke="#e8f6ff" stroke-width="0.9"/><rect x="75" y="0" width="11.2" height="0.9" fill="#7b8fd8"/><rect x="80.2" y="4.4" width="4.4" height="1.2" fill="#f4fbff"/><path d="M74.5 15.5 H87.8 C89.6 15.5 89.8 11.4 87.6 10.6 C87.1 9 85.2 8.7 84.4 9.8 C83.6 7.7 79.2 7.6 78.1 9.7 C77.1 9.5 75.6 10 75.6 11.2 C73.1 11.3 72.7 15.5 74.5 15.5 Z" fill="url(#cloud)" stroke="#3e5b8c" stroke-width="1"/><circle cx="108.7" cy="7.9" r="7.4" fill="#f4f6f4"/><g fill="none" stroke-width="1.3"><path d="M108.7 0.5 A7.4 7.4 0 0 0 108.7 15.3" stroke="#5f86d6"/><path d="M108.7 0.5 A7.4 7.4 0 0 1 108.7 15.3" stroke="#69ab6a"/><path d="M108.7 3.2 A4.7 4.7 0 0 0 108.7 12.6" stroke="#8aa9e2"/><path d="M108.7 3.2 A4.7 4.7 0 0 1 108.7 12.6" stroke="#8fc48f"/></g><circle cx="108.6" cy="7.7" r="1.9" fill="#2450d0"/><rect x="108.9" y="8" width="1.4" height="8" fill="#1f9a1f"/><path d="M128.6 6.2 L143.2 6.2 L135.5 15.6 Z" fill="#f3d84c" stroke="#d0a826" stroke-width="0.8"/><path d="M130.5 7 L134 7 L135.3 13.5Z" fill="#fff3a0" opacity="0.7"/><ellipse cx="136" cy="4.4" rx="7.7" ry="2.6" fill="#66b4e8" stroke="#2a7db6" stroke-width="0.9"/><ellipse cx="135.6" cy="2.2" rx="2.9" ry="2.4" fill="#82c8f2" stroke="#2a7db6" stroke-width="0.8"/><circle cx="140.6" cy="11.7" r="3.9" fill="#e02010" stroke="#b01005" stroke-width="0.8"/><rect x="139.2" y="10.3" width="2.8" height="2.8" fill="#fff"/><text x="148.7" y="11" font-family='"Liberation Sans", "Noto Sans CJK SC", "WenQuanYi Zen Hei", sans-serif' font-size="12px" font-weight="350" fill="#000">自动交易</text><rect x="204" y="0" width="1" height="18" fill="#a0a0a0"/><rect x="207" y="0" width="3" height="1" fill="#a8a8a8"/><rect x="207" y="2" width="3" height="1" fill="#a8a8a8"/><rect x="207" y="4" width="3" height="1" fill="#a8a8a8"/><rect x="207" y="6" width="3" height="1" fill="#a8a8a8"/><rect x="207" y="8" width="3" height="1" fill="#a8a8a8"/><rect x="207" y="10" width="3" height="1" fill="#a8a8a8"/><rect x="207" y="12" width="3" height="1" fill="#a8a8a8"/><rect x="207" y="14" width="3" height="1" fill="#a8a8a8"/><rect x="207" y="16" width="3" height="1" fill="#a8a8a8"/><g fill="#505050"><rect x="222" y="3" width="1" height="13"/><path d="M220.8 4.4 L222.5 2 L224.2 4.4Z"/><rect x="220" y="13" width="12" height="1"/><path d="M231.8 11.7 L234.2 13.5 L231.8 15.3Z"/></g><g fill="#0c9a0c"><rect x="228" y="3" width="1" height="9"/><rect x="229" y="4" width="2" height="1"/><rect x="226" y="10" width="2" height="1"/></g><rect x="242" y="0" width="1" height="18" fill="#a0a0a0"/><rect x="243" y="0" width="24" height="18" fill="url(#dith)"/><rect x="243" y="18" width="24" height="1" fill="#ffffff"/><rect x="267" y="0" width="1" height="19" fill="#ffffff"/><g fill="#505050"><rect x="250" y="3" width="1" height="13"/><path d="M248.8 4.4 L250.5 2 L252.2 4.4Z"/><rect x="248" y="13" width="12" height="1"/><path d="M259.8 11.7 L262.2 13.5 L259.8 15.3Z"/></g><rect x="256" y="0" width="1" height="12" fill="#0a9a0a"/><rect x="254.5" y="2.5" width="4" height="7.5" fill="#5cf05c" stroke="#0a9a0a" stroke-width="1"/><g fill="#505050"><rect x="278" y="3" width="1" height="13"/><path d="M276.8 4.4 L278.5 2 L280.2 4.4Z"/><rect x="276" y="13" width="12" height="1"/><path d="M287.8 11.7 L290.2 13.5 L287.8 15.3Z"/></g><path d="M277 10.5 C279.5 8 281 5 283 5.2 C285 5.4 286.5 8.5 288.8 9" fill="none" stroke="#27a127" stroke-width="1"/><rect x="299" y="0" width="1" height="18" fill="#a0a0a0"/><path d="M317.4 9.5 L322.9 15" stroke="#b07a10" stroke-width="3.2" stroke-linecap="butt"/><path d="M317.4 9.5 L322.9 15" stroke="#f0d040" stroke-width="1.6"/><circle cx="313.9" cy="6" r="5.4" fill="url(#lens)" stroke="#2f79c4" stroke-width="1.2"/><rect x="310.9" y="5.2" width="6" height="1.8" fill="#3f86bd"/><rect x="313.0" y="3" width="1.8" height="6" fill="#3f86bd"/><path d="M345.4 9.5 L350.9 15" stroke="#b07a10" stroke-width="3.2" stroke-linecap="butt"/><path d="M345.4 9.5 L350.9 15" stroke="#f0d040" stroke-width="1.6"/><circle cx="341.9" cy="6" r="5.4" fill="url(#lens)" stroke="#2f79c4" stroke-width="1.2"/><rect x="338.9" y="5.2" width="6" height="1.8" fill="#3f86bd"/><rect x="364" y="0" width="8" height="7.5" fill="#3aa028"/><rect x="372" y="0" width="8" height="7.5" fill="#2c63d0"/><rect x="364" y="8" width="8" height="7.8" fill="#2c63d0"/><rect x="372" y="8" width="8" height="7.8" fill="#3aa028"/><g fill="#ffffff"><rect x="365" y="3" width="6" height="4"/><rect x="373" y="3" width="6" height="4"/><rect x="365" y="11" width="6" height="4"/><rect x="373" y="11" width="6" height="4"/></g><g fill="#9ccf8c"><rect x="366" y="4" width="4" height="1"/><rect x="374" y="12" width="4" height="1"/></g><g fill="#8aa8e8"><rect x="374" y="4" width="4" height="1"/><rect x="366" y="12" width="4" height="1"/></g><rect x="389" y="0" width="1" height="18" fill="#a0a0a0"/><rect x="394" y="0" width="1" height="18" fill="#a0a0a0"/><rect x="395" y="0" width="24" height="18" fill="url(#dith)"/><rect x="395" y="18" width="24" height="1" fill="#ffffff"/><rect x="419" y="0" width="1" height="19" fill="#ffffff"/><g fill="#505050"><rect x="402" y="3" width="1" height="13"/><path d="M400.8 4.4 L402.5 2 L404.2 4.4Z"/><rect x="400" y="13" width="12" height="1"/><path d="M411.8 11.7 L414.2 13.5 L411.8 15.3Z"/></g><path d="M407.5 4 L411.5 7.5 L407.5 11Z" fill="#7df57d" stroke="#13a013" stroke-width="1"/><rect x="422" y="0" width="1" height="18" fill="#a0a0a0"/><rect x="423" y="0" width="24" height="18" fill="url(#dith)"/><rect x="423" y="18" width="24" height="1" fill="#ffffff"/><rect x="447" y="0" width="1" height="19" fill="#ffffff"/><g fill="#505050"><rect x="430" y="3" width="1" height="13"/><path d="M428.8 4.4 L430.5 2 L432.2 4.4Z"/><rect x="428" y="13" width="12" height="1"/><path d="M439.8 11.7 L442.2 13.5 L439.8 15.3Z"/></g><rect x="436" y="2" width="1" height="10" fill="#1d6fa8"/><path d="M437.5 7.4 L440 5 L440 6.6 L442 6.6 L442 8.2 L440 8.2 L440 9.8Z" fill="#f06010" stroke="#8a2a00" stroke-width="0.5"/><rect x="451" y="0" width="1" height="18" fill="#a0a0a0"/><path d="M461.5 1.5 H469 L472.5 5 V13.5 H461.5Z" fill="#fff" stroke="#8a8a8a" stroke-width="1"/><text x="462.6" y="11.5" font-family="Liberation Serif, serif" font-style="italic" font-size="10px" fill="#222">f</text><path d="M469 6.5 H473 V10.5 H477 V14.5 H473 V18 H469 V14.5 H465.5 V10.5 H469Z" fill="#1ee81e" stroke="#0a8a0a" stroke-width="0.8"/><path d="M482.7 7 H488.7 L485.7 10.5Z" fill="#000"/><circle cx="507" cy="8.3" r="6.8" fill="#fbfbfb" stroke="url(#clk)" stroke-width="2.6"/><circle cx="507" cy="8.3" r="7.9" fill="none" stroke="#0a4a9a" stroke-width="0.6" opacity="0.6"/><g fill="#999"><rect x="506.6" y="3.4" width="0.8" height="0.8"/><rect x="511.3" y="8" width="0.8" height="0.8"/><rect x="501.9" y="8" width="0.8" height="0.8"/><rect x="506.6" y="12.4" width="0.8" height="0.8" fill="#6aa0e0"/></g><rect x="506" y="0" width="2.5" height="1.5" fill="#1a6fd0"/><path d="M506.5 4 V8.5 H510" fill="none" stroke="#222" stroke-width="1"/><path d="M521.7 7 H527.7 L524.7 10.5Z" fill="#000"/><rect x="538.5" y="1.5" width="15" height="13.5" rx="1" fill="#fff" stroke="#2f74c0" stroke-width="1.2"/><rect x="539" y="2" width="14" height="2" fill="#6aa6e0"/><rect x="539" y="8.6" width="14" height="1" fill="#2f74c0"/><path d="M540 7.5 L542 7.5 L543.5 6.2 L545.5 6.2 L546.5 7 L548.5 6.8 L551.5 5.5" fill="none" stroke="#a01800" stroke-width="1.5" stroke-dasharray="1.5 0.5"/><path d="M541 12.4 L543 11.5 L545 12.5 L547.5 10.2 L550.5 12.8" fill="none" stroke="#18961a" stroke-width="1.5" stroke-dasharray="1.5 0.5"/><path d="M560.6 7 H566.6 L563.6 10.5Z" fill="#000"/><rect x="572" y="0" width="1" height="18" fill="#a0a0a0"/><rect x="576" y="0" width="3" height="1" fill="#a8a8a8"/><rect x="576" y="2" width="3" height="1" fill="#a8a8a8"/><rect x="576" y="4" width="3" height="1" fill="#a8a8a8"/><rect x="576" y="6" width="3" height="1" fill="#a8a8a8"/><rect x="576" y="8" width="3" height="1" fill="#a8a8a8"/><rect x="576" y="10" width="3" height="1" fill="#a8a8a8"/><rect x="576" y="12" width="3" height="1" fill="#a8a8a8"/><rect x="576" y="14" width="3" height="1" fill="#a8a8a8"/><rect x="576" y="16" width="3" height="1" fill="#a8a8a8"/><rect x="582" y="0" width="1" height="18" fill="#a0a0a0"/><rect x="583" y="0" width="24" height="18" fill="url(#dith)"/><rect x="583" y="18" width="24" height="1" fill="#ffffff"/><rect x="607" y="0" width="1" height="19" fill="#ffffff"/><path d="M589.5 1.5 L589.5 12 L592 9.6 L594.5 14.8 L596.4 14 L594 8.8 L597.5 8.6Z" fill="#4a4a4a"/><g fill="#555"><rect x="622" y="1" width="1" height="15"/><rect x="615" y="8" width="15" height="1"/></g><rect x="621" y="7" width="3" height="3" fill="#f0f0f0"/><g fill="#555"><rect x="622" y="1" width="1" height="6"/><rect x="622" y="10" width="1" height="6"/><rect x="615" y="8" width="6" height="1"/><rect x="624" y="8" width="6" height="1"/></g><rect x="639" y="0" width="1" height="18" fill="#a0a0a0"/><rect x="656" y="2" width="1.4" height="13" fill="#555"/><rect x="679" y="7.6" width="12" height="1.4" fill="#555"/><path d="M707 15 L719.5 2.8" stroke="#555" stroke-width="1.2"/><g stroke="#555" stroke-width="0.9" fill="none"><path d="M732.6 9.5 L740.7 2"/><path d="M737.7 14.6 L747 6.3"/><path d="M735 8 L734.6 14.2 M738 5.5 L737.5 12 M741 3 L740.5 9.5 M744.3 0 L744 6.5"/></g><text x="743.6" y="17" font-family='"Liberation Sans", "DejaVu Sans", sans-serif' font-weight="bold" font-size="6.8px" fill="#444">E</text><g fill="#555"><rect x="762" y="1" width="1" height="1"/><rect x="764" y="1" width="1" height="1"/><rect x="766" y="1" width="1" height="1"/><rect x="768" y="1" width="1" height="1"/><rect x="770" y="1" width="1" height="1"/><rect x="772" y="1" width="1" height="1"/><rect x="774" y="1" width="1" height="1"/><rect x="762" y="4" width="1" height="1"/><rect x="764" y="4" width="1" height="1"/><rect x="766" y="4" width="1" height="1"/><rect x="768" y="4" width="1" height="1"/><rect x="770" y="4" width="1" height="1"/><rect x="772" y="4" width="1" height="1"/><rect x="774" y="4" width="1" height="1"/><rect x="762" y="8" width="1" height="1"/><rect x="764" y="8" width="1" height="1"/><rect x="766" y="8" width="1" height="1"/><rect x="768" y="8" width="1" height="1"/><rect x="770" y="8" width="1" height="1"/><rect x="772" y="8" width="1" height="1"/><rect x="774" y="8" width="1" height="1"/><rect x="762" y="12" width="1" height="1"/><rect x="764" y="12" width="1" height="1"/><rect x="766" y="12" width="1" height="1"/><rect x="768" y="12" width="1" height="1"/><rect x="770" y="12" width="1" height="1"/></g><text x="771.5" y="17" font-family='"Liberation Sans", "DejaVu Sans", sans-serif' font-weight="bold" font-size="6.8px" fill="#444">F</text><text x="792.3" y="12.8" font-family='"Liberation Sans", "DejaVu Sans", sans-serif' font-weight="bold" font-size="11.5px" fill="#555">A</text><g fill="#555"><rect x="818" y="1" width="1" height="1"/><rect x="818" y="14" width="1" height="1"/><rect x="820" y="1" width="1" height="1"/><rect x="820" y="14" width="1" height="1"/><rect x="822" y="1" width="1" height="1"/><rect x="822" y="14" width="1" height="1"/><rect x="824" y="1" width="1" height="1"/><rect x="824" y="14" width="1" height="1"/><rect x="826" y="1" width="1" height="1"/><rect x="826" y="14" width="1" height="1"/><rect x="828" y="1" width="1" height="1"/><rect x="828" y="14" width="1" height="1"/><rect x="830" y="1" width="1" height="1"/><rect x="830" y="14" width="1" height="1"/><rect x="818" y="1" width="1" height="1"/><rect x="830" y="1" width="1" height="1"/><rect x="818" y="3" width="1" height="1"/><rect x="830" y="3" width="1" height="1"/><rect x="818" y="5" width="1" height="1"/><rect x="830" y="5" width="1" height="1"/><rect x="818" y="7" width="1" height="1"/><rect x="830" y="7" width="1" height="1"/><rect x="818" y="9" width="1" height="1"/><rect x="830" y="9" width="1" height="1"/><rect x="818" y="11" width="1" height="1"/><rect x="830" y="11" width="1" height="1"/><rect x="818" y="13" width="1" height="1"/><rect x="830" y="13" width="1" height="1"/></g><text x="820.6" y="12.5" font-family='"Liberation Sans", "DejaVu Sans", sans-serif' font-weight="bold" font-size="11px" fill="#555">T</text><path d="M846 4 L849 1.5 L852 4 L849 6.5Z" fill="#444"/><path d="M854 11.5 L857 9 L860 11.5 L857 14Z" fill="#444"/><path d="M848.5 6 L852 10 L856.5 5" fill="none" stroke="#444" stroke-width="1.2"/><path d="M866.7 7 H872.7 L869.7 10.5Z" fill="#000"/><rect x="878" y="0" width="1" height="18" fill="#a0a0a0"/><rect x="882" y="0" width="3" height="1" fill="#a8a8a8"/><rect x="882" y="2" width="3" height="1" fill="#a8a8a8"/><rect x="882" y="4" width="3" height="1" fill="#a8a8a8"/><rect x="882" y="6" width="3" height="1" fill="#a8a8a8"/><rect x="882" y="8" width="3" height="1" fill="#a8a8a8"/><rect x="882" y="10" width="3" height="1" fill="#a8a8a8"/><rect x="882" y="12" width="3" height="1" fill="#a8a8a8"/><rect x="882" y="14" width="3" height="1" fill="#a8a8a8"/><rect x="882" y="16" width="3" height="1" fill="#a8a8a8"/><rect x="1028" y="0" width="1" height="18" fill="#a0a0a0"/><rect x="1029" y="0" width="24" height="18" fill="url(#dith)"/><rect x="1029" y="18" width="24" height="1" fill="#ffffff"/><rect x="1053" y="0" width="1" height="19" fill="#ffffff"/><g font-family='"Liberation Sans", "DejaVu Sans", sans-serif' font-size="10px" letter-spacing="-0.4px" text-rendering="geometricPrecision" fill="#383838"><text x="893.7" y="12">M1</text><text x="921.6" y="12">M5</text><text x="947.6" y="12">M15</text><text x="975.5" y="12">M30</text><text x="1006.6" y="12">H1</text><text x="1033" y="12">H4</text><text x="1062.5" y="12">D1</text><text x="1089.7" y="12">W1</text><text x="1116.4" y="12">MN</text></g><rect x="1139" y="0" width="1" height="18" fill="#a0a0a0"/><circle cx="1609.4" cy="5.2" r="4.3" fill="#f6f7ff" stroke="#2d62c9" stroke-width="1.4"/><path d="M1606.2 8.6 L1602.4 12.6" stroke="#2a5cc6" stroke-width="2.6" stroke-linecap="round"/><path d="M1629.2 13.6 L1628.8 16.6 L1632 14.4Z" fill="#9a9a9a"/><ellipse cx="1632.5" cy="10.3" rx="5.8" ry="4.2" fill="#e4e4ea" stroke="#a9a9a9" stroke-width="1"/><ellipse cx="1631.5" cy="8.8" rx="3.5" ry="1.8" fill="#fafafa"/><circle cx="1640.5" cy="5.3" r="8.1" fill="#d0281a"/><circle cx="1640.5" cy="4.3" r="6.6" fill="#e8452f" opacity="0.7"/><text x="1636.9" y="10" font-family='"Liberation Sans", "DejaVu Sans", sans-serif' font-size="12px" font-weight="bold" fill="#ffffff">1</text></g>
</svg>
</body></html>
